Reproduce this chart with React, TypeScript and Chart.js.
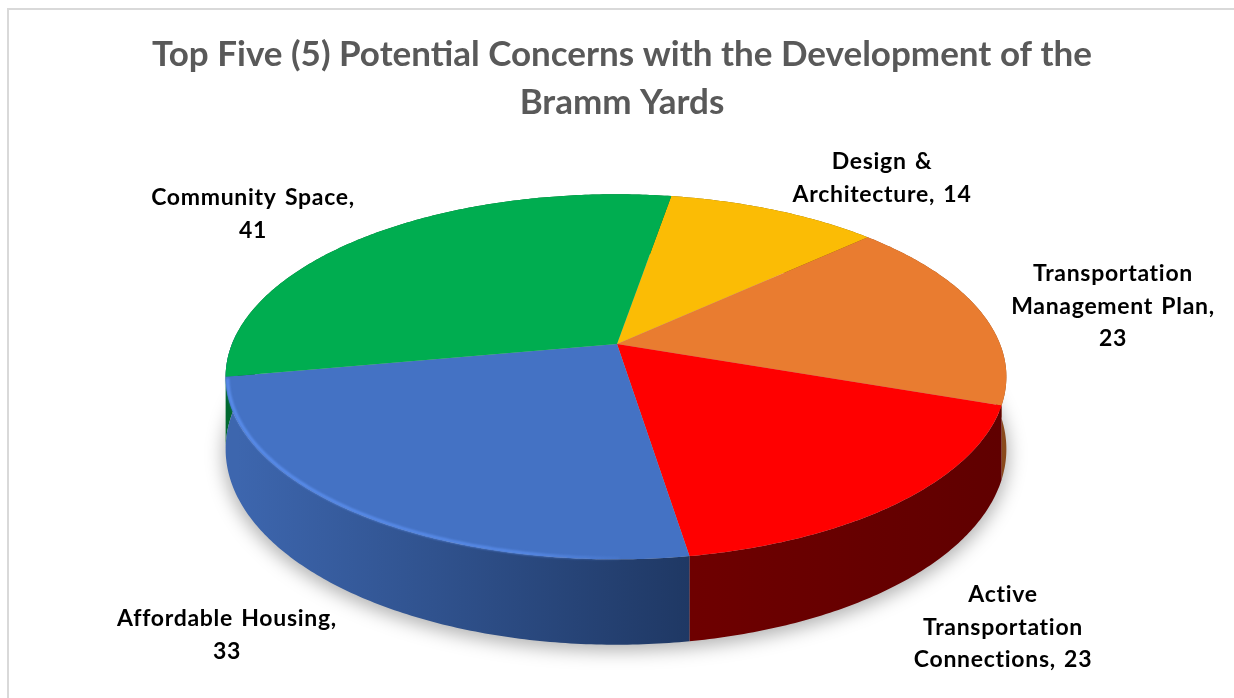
import React, { useEffect, useRef } from "react";
import { Chart, registerables } from "chart.js";

Chart.register(...registerables);

const titleLines = ["Top Five (5) Potential Concerns with the Development of the", "Bramm Yards"];
const categories = ["Design & Architecture", "Transportation Management Plan", "Active Transportation Connections", "Affordable Housing", "Community Space"];
const values = [14, 23, 23, 33, 41];
const sliceColors = ["#FBBC05", "#E97C30", "#FF0000", "#4472C4", "#00AD50"];
const wallLeftColors = ["#7d5e02", "#8a4a1c", "#6e0000", "#3D66AE", "#00682f"];
const wallRightColors = ["#7d5e02", "#8a4a1c", "#600000", "#1F3864", "#00682f"];
const labelLines = [
  ["Design &", "Architecture, 14"],
  ["Transportation", "Management Plan,", "23"],
  ["Active", "Transportation", "Connections, 23"],
  ["Affordable Housing,", "33"],
  ["Community Space,", "41"],
];
const labelAnchors = [
  [882, 162],
  [1113, 274],
  [1003, 595],
  [227, 619],
  [253, 198],
];
// walls are painted in this order, so that the front slices cover the back ones
const wallOrder = [4, 0, 1, 2, 3];

const TILT = 0.46;
const PERSPECTIVE = 0.18;
const DEPTH = 70;
const PIE_SHIFT = 5;
const RIM_SHIFT = 1;

function project(cx: number, cy: number, r: number, angle: number, depth = 0) {
  const ux = Math.cos(angle);
  const uy = Math.sin(angle);
  const s = 1 / (1 - PERSPECTIVE * uy);
  return { x: cx - RIM_SHIFT + r * ux * s, y: cy + r * TILT * uy * s + depth * s };
}

function tracePie(ctx: CanvasRenderingContext2D, cx: number, cy: number, r: number, a0: number, a1: number, depth = 0) {
  const steps = Math.max(4, Math.ceil(Math.abs(a1 - a0) * 90));
  for (let i = 0; i <= steps; i++) {
    const p = project(cx, cy, r, a0 + ((a1 - a0) * i) / steps, depth);
    ctx.lineTo(p.x, p.y);
  }
}

const pie3dPlugin = {
  id: "pie3d",
  beforeDatasetsDraw(chart: any) {
    const ctx: CanvasRenderingContext2D = chart.ctx;
    const arcs = chart.getDatasetMeta(0).data;
    const cx = arcs[0].x - PIE_SHIFT;
    const cy = arcs[0].y;
    const r = arcs[0].outerRadius;

    // soft ground shadow
    ctx.save();
    ctx.filter = "blur(9px)";
    ctx.fillStyle = "rgba(0,0,0,0.30)";
    ctx.beginPath();
    tracePie(ctx, cx, cy + 5, r + 2, 0, Math.PI * 2, DEPTH);
    ctx.closePath();
    ctx.fill();
    ctx.restore();

    ctx.save();
    ctx.filter = "blur(0.6px)";

    // side walls
    wallOrder.forEach((i) => {
      const arc = arcs[i];
      const a0 = arc.startAngle;
      // the blue wall wraps slightly past the left-most point of the rim
      const a1 = arc.endAngle + (i === 3 ? 0.25 : 0);
      const from = project(cx, cy, r, a0);
      const to = project(cx, cy, r, a1);
      const g = ctx.createLinearGradient(Math.min(from.x, to.x), 0, Math.max(from.x, to.x), 0);
      g.addColorStop(0, wallLeftColors[i]);
      g.addColorStop(1, wallRightColors[i]);
      ctx.fillStyle = g;
      ctx.beginPath();
      ctx.moveTo(from.x, from.y);
      tracePie(ctx, cx, cy, r, a0, a1);
      tracePie(ctx, cx, cy, r, a1, a0, DEPTH);
      ctx.closePath();
      ctx.fill();
    });

    // top faces
    arcs.forEach((arc: any, i: number) => {
      ctx.fillStyle = sliceColors[i];
      ctx.beginPath();
      ctx.moveTo(cx, cy);
      tracePie(ctx, cx, cy, r, arc.startAngle, arc.endAngle);
      ctx.closePath();
      ctx.fill();
    });
    ctx.restore();

    // rim highlight on the blue slice, fading toward the front
    const blue = arcs[3];
    ctx.save();
    const fade = ctx.createLinearGradient(cx - r, 0, cx + 30, 0);
    fade.addColorStop(0, "rgba(92,144,240,0.95)");
    fade.addColorStop(0.7, "rgba(92,144,240,0.8)");
    fade.addColorStop(1, "rgba(92,144,240,0)");
    ctx.strokeStyle = fade;
    ctx.lineWidth = 3;
    ctx.filter = "blur(1px)";
    ctx.beginPath();
    const a = project(cx, cy, r - 2, blue.startAngle + 0.15);
    ctx.moveTo(a.x, a.y);
    tracePie(ctx, cx, cy, r - 2, blue.startAngle + 0.15, blue.endAngle - 0.01);
    ctx.stroke();
    ctx.restore();
    return false;
  },
  afterDraw(chart: any) {
    const ctx: CanvasRenderingContext2D = chart.ctx;
    ctx.save();
    ctx.font = "bold 23px Lato";
    ctx.fillStyle = "#000000";
    ctx.textAlign = "center";
    ctx.textBaseline = "middle";
    (ctx as any).letterSpacing = "0.7px";
    (ctx as any).wordSpacing = "2px";
    labelLines.forEach((lines, i) => {
      lines.forEach((line, j) => ctx.fillText(line, labelAnchors[i][0], labelAnchors[i][1] + j * 32.4));
    });
    ctx.restore();
    // chart frame
    ctx.save();
    ctx.strokeStyle = "#D9D9D9";
    ctx.lineWidth = 2;
    ctx.beginPath();
    ctx.moveTo(8, chart.height);
    ctx.lineTo(8, 9);
    ctx.lineTo(chart.width, 9);
    ctx.stroke();
    ctx.restore();
  },
};

export default function App() {
  const ref = useRef<HTMLCanvasElement>(null);
  useEffect(() => {
    const chart = new Chart(ref.current!, {
      type: "pie",
      data: {
        labels: categories,
        datasets: [{ data: values, backgroundColor: sliceColors, borderWidth: 0 }],
      },
      options: {
        responsive: false,
        animation: false,
        rotation: 9.76,
        radius: 384,
        layout: { padding: { left: PIE_SHIFT * 2, right: 0, top: 0, bottom: 147 } },
        plugins: {
          legend: { display: false },
          tooltip: { enabled: false },
          title: {
            display: true,
            text: titleLines,
            color: "#595959",
            font: { family: "Lato", size: 35, weight: "bold", lineHeight: 1.37 },
            padding: { top: 31, bottom: 10 },
          },
        },
      },
      plugins: [pie3dPlugin],
    } as any);
    return () => chart.destroy();
  }, []);
  return (
    <div style={{ position: "fixed", left: 0, top: 0, width: 1234, height: 698, background: "#fff" }}>
      <canvas ref={ref} width={1234} height={698} style={{ display: "block" }} />
    </div>
  );
}
